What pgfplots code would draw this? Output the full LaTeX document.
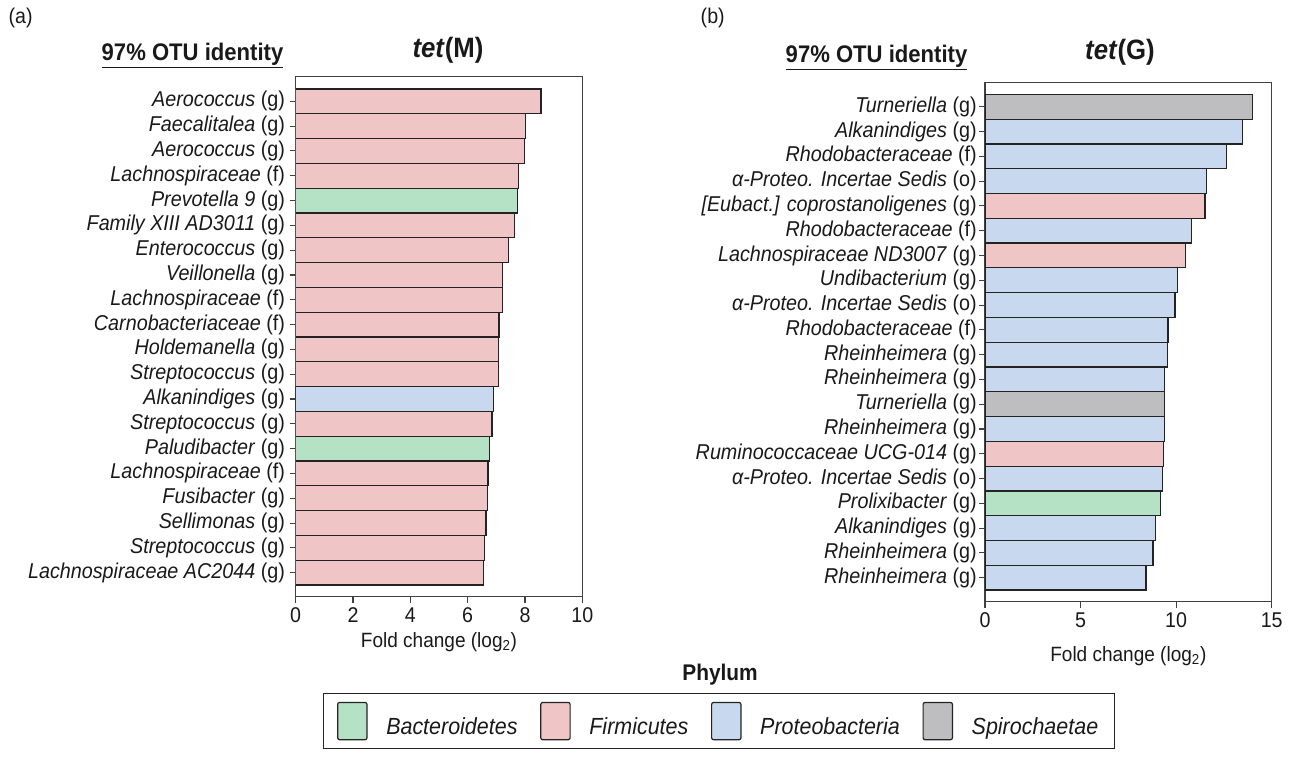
\documentclass[border=0pt]{standalone}
\usepackage{fontspec}
\setmainfont{Liberation Sans}[FakeStretch=0.92]
\usepackage{pgfplots}
\pgfplotsset{compat=1.18}
\definecolor{firm}{RGB}{240,197,197}
\definecolor{bact}{RGB}{181,225,197}
\definecolor{prot}{RGB}{200,216,239}
\definecolor{spir}{RGB}{190,190,192}
\definecolor{edge}{RGB}{35,35,35}
\definecolor{txt}{RGB}{25,25,25}
\newcommand{\fs}[1]{\fontsize{#1}{#1}\selectfont}
\begin{document}
\begin{tikzpicture}
\path[use as bounding box] (0,0) rectangle (968.25pt,-573.75pt);
\pgfplotsset{
  panel/.style={
    scale only axis,
    anchor=south west,
    xbar, bar shift=0pt, bar width=1,
    y dir=reverse,
    ytick={1,...,20},
    tick align=outside,
    xtick pos=bottom, ytick pos=left,
    major tick length=4.5pt,
    axis line style={draw=black!75, line width=0.8pt},
    every tick/.style={draw=black!75, line width=0.8pt},
    ticklabel style={font=\fs{16}, text=txt},
    yticklabel style={font=\fs{16.1}},
    /pgf/number format/assume math mode=true,
    xlabel style={font=\fs{15.5}, text=txt},
    every axis plot/.append style={draw=edge, line width=0.9pt},
  },
}
% ---------- panel (a)
\begin{axis}[panel,
  at={(295.7*0.75pt,-596.7*0.75pt)},
  width=214.95pt, height=390.5pt,
  xmin=0, xmax=10, xtick={0,2,4,6,8,10},
  ymin=-0.02, ymax=20.97,
  xlabel={Fold change (log\textsubscript{2})},
  xlabel style={at={(0.5,0)}, anchor=north, yshift=-23pt},
  yticklabels={
    {\textit{Aerococcus} (g)},
    {\textit{Faecalitalea} (g)},
    {\textit{Aerococcus} (g)},
    {\textit{Lachnospiraceae} (f)},
    {\textit{Prevotella 9} (g)},
    {\textit{Family XIII AD3011} (g)},
    {\textit{Enterococcus} (g)},
    {\textit{Veillonella} (g)},
    {\textit{Lachnospiraceae} (f)},
    {\textit{Carnobacteriaceae} (f)},
    {\textit{Holdemanella} (g)},
    {\textit{Streptococcus} (g)},
    {\textit{Alkanindiges} (g)},
    {\textit{Streptococcus} (g)},
    {\textit{Paludibacter} (g)},
    {\textit{Lachnospiraceae} (f)},
    {\textit{Fusibacter} (g)},
    {\textit{Sellimonas} (g)},
    {\textit{Streptococcus} (g)},
    {\textit{Lachnospiraceae AC2044} (g)}},
]
\addplot[fill=bact] coordinates {(7.73,5) (6.77,15)};
\addplot[fill=firm] coordinates {(8.56,1) (8.02,2) (7.98,3) (7.78,4) (7.63,6) (7.43,7) (7.22,8) (7.22,9) (7.09,10) (7.07,11) (7.07,12) (6.85,14) (6.71,16) (6.69,17) (6.64,18) (6.58,19) (6.55,20)};
\addplot[fill=prot] coordinates {(6.91,13)};
\end{axis}
% ---------- panel (b)
\begin{axis}[panel,
  at={(985*0.75pt,-601.7*0.75pt)},
  width=215.0pt, height=389.25pt,
  xmin=0, xmax=15, xtick={0,5,10,15},
  ymin=0.03, ymax=20.97,
  yticklabel style={inner xsep=1.5pt},
  xlabel={Fold change (log\textsubscript{2})},
  xlabel style={at={(0.5,0)}, anchor=north, yshift=-30pt},
  yticklabels={
    {\textit{Turneriella} (g)},
    {\textit{Alkanindiges} (g)},
    {\textit{Rhodobacteraceae} (f)},
    {\textit{α-Proteo. Incertae Sedis} (o)},
    {\textit{[Eubact.] coprostanoligenes} (g)},
    {\textit{Rhodobacteraceae} (f)},
    {\textit{Lachnospiraceae ND3007} (g)},
    {\textit{Undibacterium} (g)},
    {\textit{α-Proteo. Incertae Sedis} (o)},
    {\textit{Rhodobacteraceae} (f)},
    {\textit{Rheinheimera} (g)},
    {\textit{Rheinheimera} (g)},
    {\textit{Turneriella} (g)},
    {\textit{Rheinheimera} (g)},
    {\textit{Ruminococcaceae UCG-014} (g)},
    {\textit{α-Proteo. Incertae Sedis} (o)},
    {\textit{Prolixibacter} (g)},
    {\textit{Alkanindiges} (g)},
    {\textit{Rheinheimera} (g)},
    {\textit{Rheinheimera} (g)}},
  legend columns=4,
  legend style={at={(-0.928,-0.23)}, anchor=center, draw=edge, line width=0.9pt,
    font=\fs{17.5}\itshape, text=txt, inner xsep=10pt, inner ysep=6pt,
    /tikz/every odd column/.append style={column sep=12pt},
    /tikz/every even column/.append style={column sep=15pt}},
  legend image code/.code={\draw[#1, rounded corners=1.5pt] (0pt,-9.5pt) rectangle (22pt,18.5pt);},
]
\addplot[fill=bact] coordinates {(9.17,17)};
\addplot[fill=firm] coordinates {(11.51,5) (10.50,7) (9.33,15)};
\addplot[fill=prot] coordinates {(13.46,2) (12.65,3) (11.60,4) (10.80,6) (10.06,8) (9.94,9) (9.58,10) (9.53,11) (9.40,12) (9.41,14) (9.30,16) (8.91,18) (8.79,19) (8.42,20)};
\addplot[fill=spir] coordinates {(14.01,1) (9.41,13)};
\legend{Bacteroidetes, Firmicutes, Proteobacteria, Spirochaetae}
\end{axis}
% ---------- titles
\node[anchor=west, text=txt, font=\fs{16}] at (4*0.75pt,-18*0.75pt) {(a)};
\node[anchor=west, text=txt, font=\fs{16}] at (696*0.75pt,-18*0.75pt) {(b)};
\node[anchor=east, text=txt, font=\fs{18}\bfseries] at (288*0.75pt,-56*0.75pt) {\underline{97\% OTU identity}};
\node[anchor=east, text=txt, font=\fs{18}\bfseries] at (972*0.75pt,-58*0.75pt) {\underline{97\% OTU identity}};
\node[text=txt, font=\fs{21}\bfseries] at (448*0.75pt,-50*0.75pt) {\textit{tet}(M)};
\node[text=txt, font=\fs{21}\bfseries] at (1120*0.75pt,-52*0.75pt) {\textit{tet}(G)};
\node[text=txt, font=\fs{17}\bfseries] at (720*0.75pt,-675*0.75pt) {Phylum};
\end{tikzpicture}
\end{document}
